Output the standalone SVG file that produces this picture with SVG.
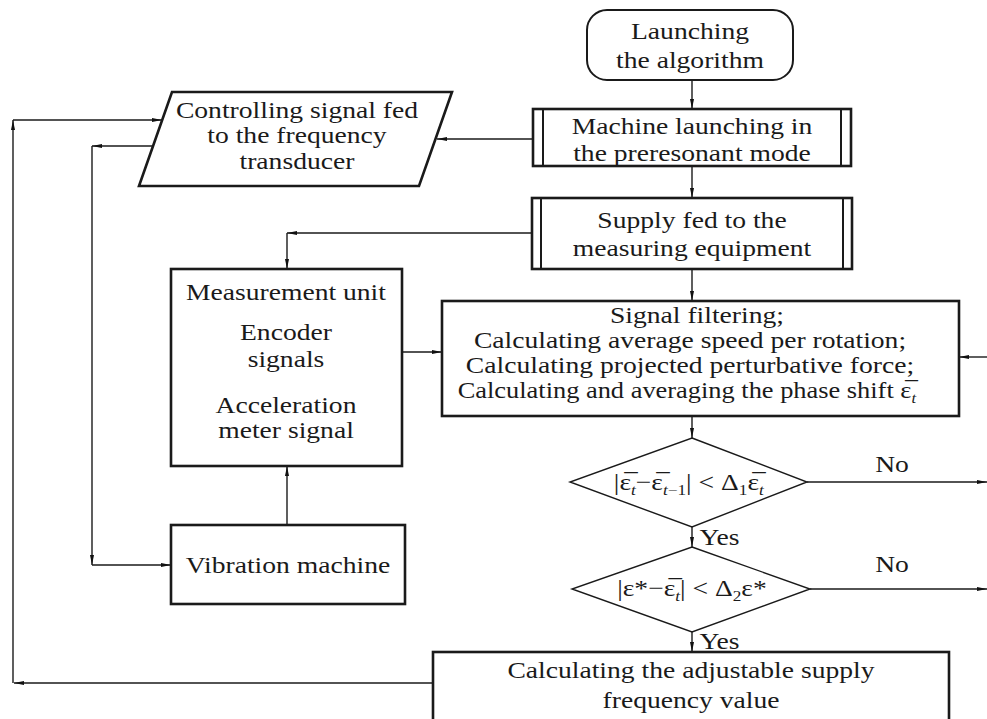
<svg xmlns="http://www.w3.org/2000/svg" width="987" height="719" viewBox="0 0 987 719">
<defs>
<marker id="ah" viewBox="0 0 10 4" refX="10" refY="2" markerWidth="10" markerHeight="4" markerUnits="userSpaceOnUse" orient="auto">
<path d="M0,0 L10,2 L0,4 Z" fill="#111"/>
</marker>
</defs>
<style>
text{font-family:"Liberation Serif","Times New Roman",serif;font-size:24px;fill:#1a1a1a;text-anchor:middle;transform-box:fill-box;transform-origin:center;transform:scaleX(1.15)}
.box{fill:#fff;stroke:#1a1a1a;stroke-width:2.6}
.thin{fill:#fff;stroke:#1a1a1a;stroke-width:1.4}
.bar{stroke:#1a1a1a;stroke-width:2}
.c{fill:none;stroke:#1a1a1a;stroke-width:1.4;marker-end:url(#ah)}
.sub{font-size:15px;font-style:italic}
.subn{font-size:15px}
</style>
<rect width="987" height="719" fill="#fff"/>
<g id="connectors">
<path class="c" d="M692,80 V109"/>
<path class="c" d="M692,166 V198"/>
<path class="c" d="M692,269 V301"/>
<path class="c" d="M692,416 V438"/>
<path class="c" d="M692,527 V547"/>
<path class="c" d="M692,632 V652"/>
<path class="c" d="M807,482 H987"/>
<path class="c" d="M810,589 H987"/>
<path class="c" d="M987,357 H959"/>
<path class="c" d="M533,139 H437"/>
<path class="c" d="M433,683 H14"/>
<path class="c" d="M13,683 V120"/>
<path class="c" d="M13,120 H162"/>
<path class="c" d="M153,146 H92"/>
<path class="c" d="M92,146 V565"/>
<path class="c" d="M92,565 H171"/>
<path class="c" d="M532,233 H287"/>
<path class="c" d="M287,233 V269"/>
<path class="c" d="M402,352 H442"/>
<path class="c" d="M287,525 V466"/>
<text x="892" y="472">No</text>
<text x="892" y="572">No</text>
<text x="702" y="545" style="text-anchor:start">Yes</text>
<text x="702" y="649" style="text-anchor:start">Yes</text>
</g>
<g id="launch">
<rect class="thin" x="587" y="10" width="206" height="70" rx="20" style="stroke-width:2"/>
<text x="690" y="39">Launching</text>
<text x="690" y="68">the algorithm</text>
</g>
<g id="machine">
<rect class="box" x="533" y="109" width="318" height="57"/>
<line class="bar" x1="543" y1="109" x2="543" y2="166"/>
<line class="bar" x1="841" y1="109" x2="841" y2="166"/>
<text x="692" y="134">Machine launching in</text>
<text x="692" y="161">the preresonant mode</text>
</g>
<g id="controlling">
<polygon class="box" points="172,92 452,92 419,186 139,186"/>
<text x="297" y="118">Controlling signal fed</text>
<text x="297" y="143">to the frequency</text>
<text x="297" y="169">transducer</text>
</g>
<g id="supply">
<rect class="box" x="532" y="198" width="320" height="71"/>
<line class="bar" x1="541" y1="198" x2="541" y2="269"/>
<line class="bar" x1="843" y1="198" x2="843" y2="269"/>
<text x="692" y="228">Supply fed to the</text>
<text x="692" y="256">measuring equipment</text>
</g>
<g id="measurement">
<rect class="box" x="171" y="269" width="231" height="197"/>
<text x="286" y="300">Measurement unit</text>
<text x="286" y="340">Encoder</text>
<text x="286" y="367">signals</text>
<text x="286" y="413">Acceleration</text>
<text x="286" y="438">meter signal</text>
</g>
<g id="signal">
<rect class="box" x="442" y="301" width="517" height="115"/>
<text x="697" y="323">Signal filtering;</text>
<text x="690" y="348">Calculating average speed per rotation;</text>
<text x="690" y="373">Calculating projected perturbative force;</text>
<text x="687" y="398" style="transform:scaleX(1.1)">Calculating and averaging the phase shift ε&#x305;<tspan class="sub" dy="5">t</tspan></text>
</g>
<g id="decision1">
<polygon class="thin" points="692,438 807,482 692,527 570,482"/>
<text x="689" y="490">|ε&#x305;<tspan class="sub" dy="5">t</tspan><tspan dy="-5">−ε&#x305;</tspan><tspan class="sub" dy="5">t</tspan><tspan class="subn">−1</tspan><tspan dy="-5">| &lt; Δ</tspan><tspan class="subn" dy="5">1</tspan><tspan dy="-5">ε&#x305;</tspan><tspan class="sub" dy="5">t</tspan></text>
</g>
<g id="decision2">
<polygon class="thin" points="692,547 810,589 692,632 572,589"/>
<text x="692" y="596">|ε*−ε&#x305;<tspan class="sub" dy="5">t</tspan><tspan dy="-5">| &lt; Δ</tspan><tspan class="subn" dy="5">2</tspan><tspan dy="-5">ε*</tspan></text>
</g>
<g id="vibration">
<rect class="box" x="171" y="525" width="234" height="79"/>
<text x="288" y="573">Vibration machine</text>
</g>
<g id="calc">
<rect class="box" x="433" y="652" width="516" height="80"/>
<text x="691" y="678">Calculating the adjustable supply</text>
<text x="691" y="708">frequency value</text>
</g>
</svg>
